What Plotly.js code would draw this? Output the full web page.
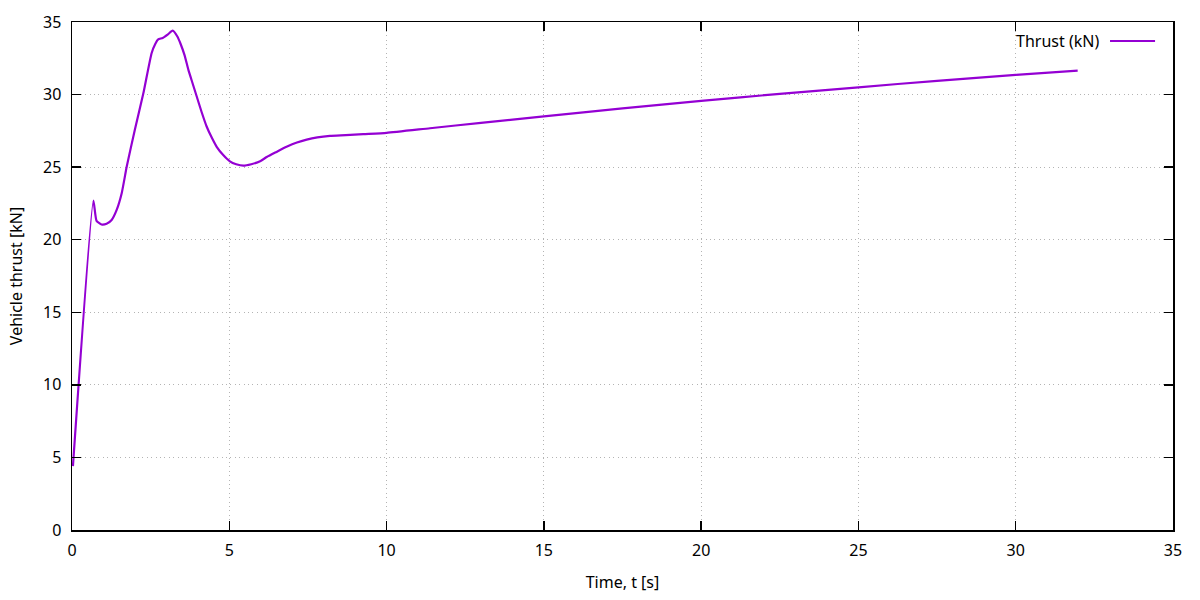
<!DOCTYPE html>
<html>
<head>
<meta charset="utf-8">
<script src="https://cdn.plot.ly/plotly-3.0.1.min.js"></script>
<style>html,body{margin:0;padding:0;background:#fff;}#chart{width:1200px;height:600px;}</style>
</head>
<body>
<div id="chart"></div>
<script>
const seriesName = "Thrust (kN)";
const time = [0.03, 0.68, 0.78, 0.94, 1.1, 1.26, 1.42, 1.58, 1.74, 2.0, 2.27, 2.53, 2.65, 2.74, 2.88, 3.05, 3.2, 3.35, 3.45, 3.58, 3.70, 3.83, 3.96, 4.12, 4.28, 4.45, 4.6, 4.8, 5.02, 5.22, 5.45, 5.7, 5.98, 6.19, 6.5, 6.82, 7.15, 7.46, 7.8, 8.2, 8.7, 9.26, 10.0, 11.38, 13, 15, 17.5, 20, 22.5, 25, 27.5, 30, 31.97];
const thrust = [4.4, 22.7, 21.3, 21.05, 21.1, 21.36, 22.05, 23.2, 25.04, 27.6, 30.1, 32.85, 33.5, 33.8, 33.9, 34.15, 34.4, 34.0, 33.5, 32.7, 31.7, 30.8, 29.9, 28.8, 27.8, 27.0, 26.4, 25.85, 25.4, 25.2, 25.1, 25.2, 25.4, 25.7, 26.05, 26.4, 26.7, 26.9, 27.05, 27.15, 27.2, 27.27, 27.36, 27.68, 28.05, 28.5, 29.05, 29.56, 30.05, 30.5, 30.95, 31.36, 31.65];
const xTicks = [0, 5, 10, 15, 20, 25, 30, 35];
const yTicks = [0, 5, 10, 15, 20, 25, 30, 35];
const xTitle = "Time, t [s]";
const yTitle = "Vehicle thrust [kN]";
const lineColor = "#9400d3";
const font = "Noto Sans, Open Sans, sans-serif";
const fs = 16;

const axisCommon = {
  showline: true, mirror: "ticks", linecolor: "#000", linewidth: 1.5,
  ticks: "inside", ticklen: 9, tickwidth: 1.5, tickcolor: "#000",
  showgrid: true, gridcolor: "#b4b4b4", griddash: "1px,3.4px", gridwidth: 1,
  zeroline: false, tickfont: {family: font, size: fs, color: "#000"},
  tickmode: "array", range: [0, 35], fixedrange: true
};

const data = [{
  x: time, y: thrust, type: "scatter", mode: "lines", name: seriesName,
  line: {color: lineColor, width: 2.2, shape: "spline", smoothing: 0.5}, showlegend: false
}];

const layout = {
  width: 1200, height: 600,
  margin: {l: 72, r: 27, t: 22, b: 70},
  paper_bgcolor: "#fff", plot_bgcolor: "#fff",
  font: {family: font, size: fs, color: "#000"},
  xaxis: Object.assign({}, axisCommon, {
    tickvals: xTicks, ticktext: xTicks.map(String), ticklabelstandoff: 5,
    title: {text: xTitle, font: {family: font, size: fs, color: "#000"}, standoff: 17}
  }),
  yaxis: Object.assign({}, axisCommon, {
    tickvals: yTicks, ticktext: yTicks.map(String), ticklabelstandoff: 6,
    title: {text: yTitle, font: {family: font, size: fs, color: "#000"}, standoff: 16}
  }),
  annotations: [{
    text: seriesName, xref: "paper", yref: "paper", x: 0.9346, y: 0.9626,
    xanchor: "right", yanchor: "middle", showarrow: false,
    font: {family: font, size: fs, color: "#000"}
  }],
  shapes: [{
    type: "line", xref: "paper", yref: "paper", x0: 0.9428, x1: 0.9837, y0: 0.9626, y1: 0.9626,
    line: {color: lineColor, width: 2.2}
  }]
};

Plotly.newPlot("chart", data, layout, {displayModeBar: false, staticPlot: true});
</script>
</body>
</html>
